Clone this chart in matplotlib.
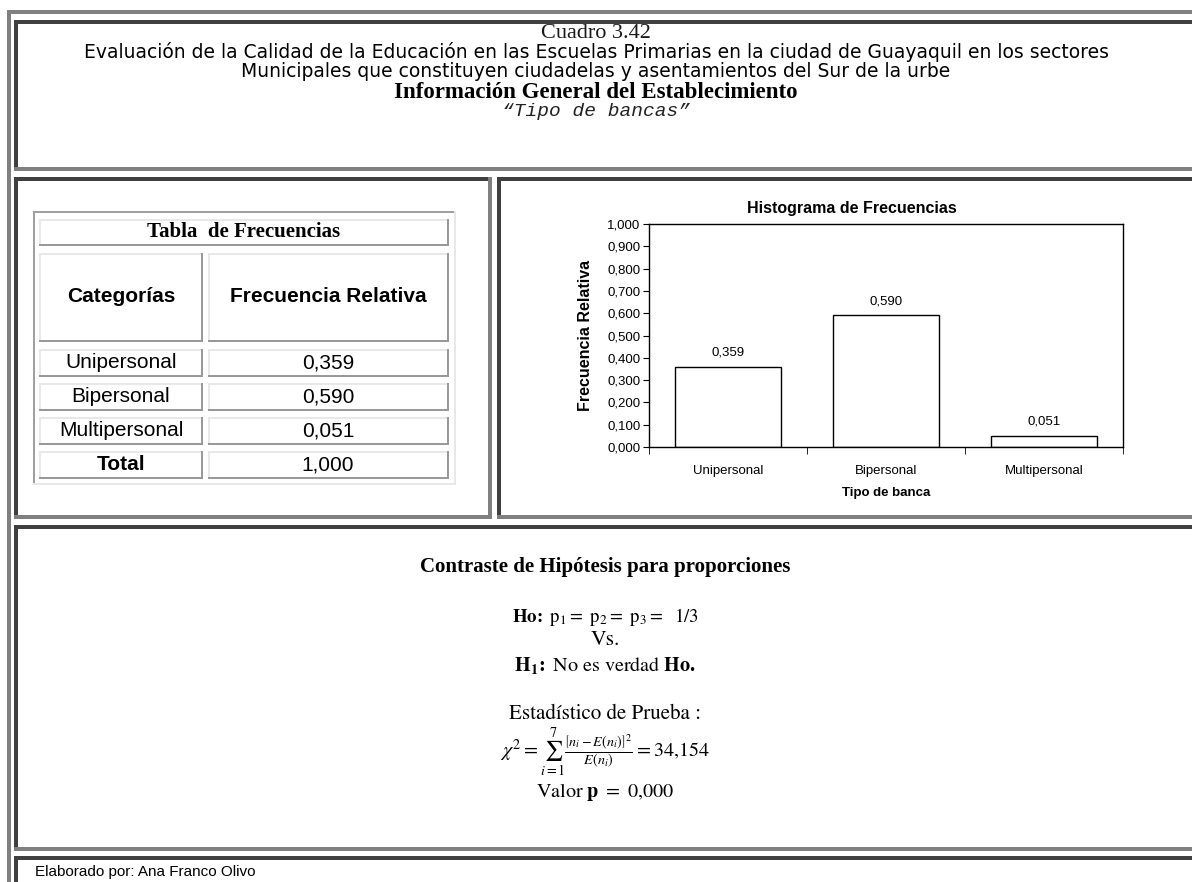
import matplotlib
matplotlib.use("Agg")
import matplotlib.pyplot as plt
from matplotlib.patches import Rectangle

plt.rcParams['mathtext.fontset'] = 'stix'

# data
categories = ['Unipersonal', 'Bipersonal', 'Multipersonal']
rel_freq = [0.359, 0.590, 0.051]
total = 1.000
y_ticks = [0.0, 0.1, 0.2, 0.3, 0.4, 0.5, 0.6, 0.7, 0.8, 0.9, 1.0]

chi2_value = '34{,}154'
p_value = '0,000'

DARK = '#404040'
GRAY = '#808080'
W, H = 1192, 882


def fmt(v):
    return '{:.3f}'.format(v).replace('.', ',')


def box(ax, x0, y0, x1, y1, color):
    ax.add_patch(Rectangle((x0, y0), x1 - x0, y1 - y0, facecolor=color,
                           edgecolor='none', antialiased=False))


def cell(ax, x0, y0, x1, y1, tl, br, t=4):
    # top / left in one colour, bottom / right in the other
    box(ax, x0, y0, x1, y0 + t, tl)
    box(ax, x0, y0, x0 + t, y1, tl)
    box(ax, x0, y1 - t, x1, y1, br)
    box(ax, x1 - t, y0, x1, y1, br)


fig = plt.figure(figsize=(W / 100, H / 100), dpi=100)
bg = fig.add_axes([0, 0, 1, 1])
bg.set_xlim(0, W)
bg.set_ylim(H, 0)
bg.axis('off')

# page frames
box(bg, 7, 10, W + 10, 14, GRAY)
box(bg, 7, 10, 11, H + 10, GRAY)
cell(bg, 14, 20, W + 10, 171, DARK, GRAY)
cell(bg, 14, 177, 492, 519, DARK, GRAY)
cell(bg, 497, 177, W + 10, 519, DARK, GRAY)
cell(bg, 14, 525, W + 10, 851, DARK, GRAY)
cell(bg, 14, 856, W + 10, H + 10, DARK, GRAY)

# header
cx = 596
bg.text(cx, 38, 'Cuadro 3.42', ha='center', va='baseline', fontsize=16,
        family='Liberation Serif', color='#1a1a1a')
bg.text(cx, 58, 'Evaluación de la Calidad de la Educación en las Escuelas Primarias '
        'en la ciudad de Guayaquil en los sectores', ha='center', va='baseline',
        fontsize=13.5, family='DejaVu Sans')
bg.text(cx, 77, 'Municipales que constituyen ciudadelas y asentamientos del Sur de la urbe',
        ha='center', va='baseline', fontsize=13.5, family='DejaVu Sans')
bg.text(cx, 98, 'Información General del Establecimiento', ha='center', va='baseline',
        fontsize=16.5, family='Liberation Serif', weight='bold')
bg.text(cx, 116, '\u201cTipo de bancas\u201d', ha='center', va='baseline', fontsize=14,
        family='Liberation Mono', style='italic', color='#222222')

# frequency table
cell(bg, 33, 211, 456, 485, '#a0a0a0', '#e8e8e8', t=2)
cell(bg, 39, 219, 449, 246, '#e8e8e8', '#999999', t=2)
bg.text(244, 232, 'Tabla  de Frecuencias', ha='center', va='center', fontsize=15,
        family='Liberation Serif', weight='bold')
cell(bg, 39, 253, 203, 342, '#e8e8e8', '#999999', t=2)
cell(bg, 208, 253, 449, 342, '#e8e8e8', '#999999', t=2)
bg.text(121, 297, 'Categorías', ha='center', va='center', fontsize=15,
        family='Liberation Sans', weight='bold')
bg.text(328, 297, 'Frecuencia Relativa', ha='center', va='center', fontsize=15,
        family='Liberation Sans', weight='bold')

row_labels = categories + ['Total']
row_values = rel_freq + [total]
for i, (lab, val) in enumerate(zip(row_labels, row_values)):
    top = 349 + i * 34
    cell(bg, 39, top, 203, top + 28, '#e8e8e8', '#999999', t=2)
    cell(bg, 208, top, 449, top + 28, '#e8e8e8', '#999999', t=2)
    bg.text(121, top + 14, lab, ha='center', va='center', fontsize=15,
            family='Liberation Sans', weight='bold' if lab == 'Total' else 'normal')
    bg.text(328, top + 14, fmt(val), ha='center', va='center', fontsize=15,
            family='Liberation Sans')

# histogram
ax = fig.add_axes([649 / W, 1 - 447 / H, (1123 - 649) / W, (447 - 224) / H])
x = list(range(len(categories)))
ax.bar(x, rel_freq, width=0.67, color='white', edgecolor='black', linewidth=1)
for xi, v in zip(x, rel_freq):
    ax.text(xi, v + 0.063, fmt(v), ha='center', va='center', fontsize=9.5,
            family='Liberation Sans')
ax.set_xlim(-0.5, 2.5)
ax.set_ylim(0, 1)
ax.set_yticks(y_ticks)
ax.set_yticklabels([fmt(t) for t in y_ticks], fontsize=9.5, family='Liberation Sans')
ax.set_xticks(x)
ax.set_xticklabels(categories, fontsize=9.5, family='Liberation Sans')
ax.set_xticks([-0.5, 0.5, 1.5, 2.5], minor=True)
ax.tick_params(axis='x', which='major', length=0, pad=13)
ax.tick_params(axis='x', which='minor', length=5, direction='out')
ax.tick_params(axis='y', length=4, direction='out', pad=2)
for s in ax.spines.values():
    s.set_linewidth(1)
ax.set_title('Histograma de Frecuencias', fontsize=11.5, weight='bold',
             family='Liberation Sans', x=0.428, pad=8)
ax.set_ylabel('Frecuencia Relativa', fontsize=11.5, weight='bold',
              family='Liberation Sans')
ax.yaxis.set_label_coords(-0.133, 0.5)
ax.set_xlabel('Tipo de banca', fontsize=9.5, weight='bold', family='Liberation Sans')
ax.xaxis.set_label_coords(0.5, -0.206)
ax.xaxis.label.set_va('center')
ax.yaxis.label.set_va('center')

# hypothesis test
hx = 605
bg.text(hx, 567, 'Contraste de Hipótesis para proporciones', ha='center', va='center',
        fontsize=15, family='Liberation Serif', weight='bold')
bg.text(hx, 617, r'$\mathbf{Ho\!:}\ \mathrm{p_1{=}\ p_2{=}\ p_3{=}\ \ 1/3}$', ha='center',
        va='center', fontsize=13.5)
bg.text(hx, 640, 'Vs.', ha='center', va='center', fontsize=15.5, family='STIXGeneral')
bg.text(hx, 665, r'$\mathbf{H_1\!:}\ \mathrm{No\ es\ verdad}\ \mathbf{Ho.}$', ha='center',
        va='center', fontsize=14.5)
bg.text(hx, 714, 'Estadístico de Prueba :', ha='center', va='center', fontsize=15,
        family='STIXGeneral')
bg.text(hx, 752, r'$\chi^2 = \sum_{i=1}^{7}\frac{\left[n_i - E\left(n_i\right)\right]^2}'
        r'{E\left(n_i\right)} = ' + chi2_value + '$', ha='center', va='center',
        fontsize=14.5)
bg.text(hx, 792, r'$\mathrm{Valor}\ \mathbf{p}\ \mathrm{=\ ' + p_value.replace(',', '{,}')
        + '}$', ha='center', va='center', fontsize=14.5)

# footer
bg.text(35, 872, 'Elaborado por: Ana Franco Olivo', ha='left', va='center',
        fontsize=11, family='Liberation Sans')

fig.savefig('out.png', dpi=100)
